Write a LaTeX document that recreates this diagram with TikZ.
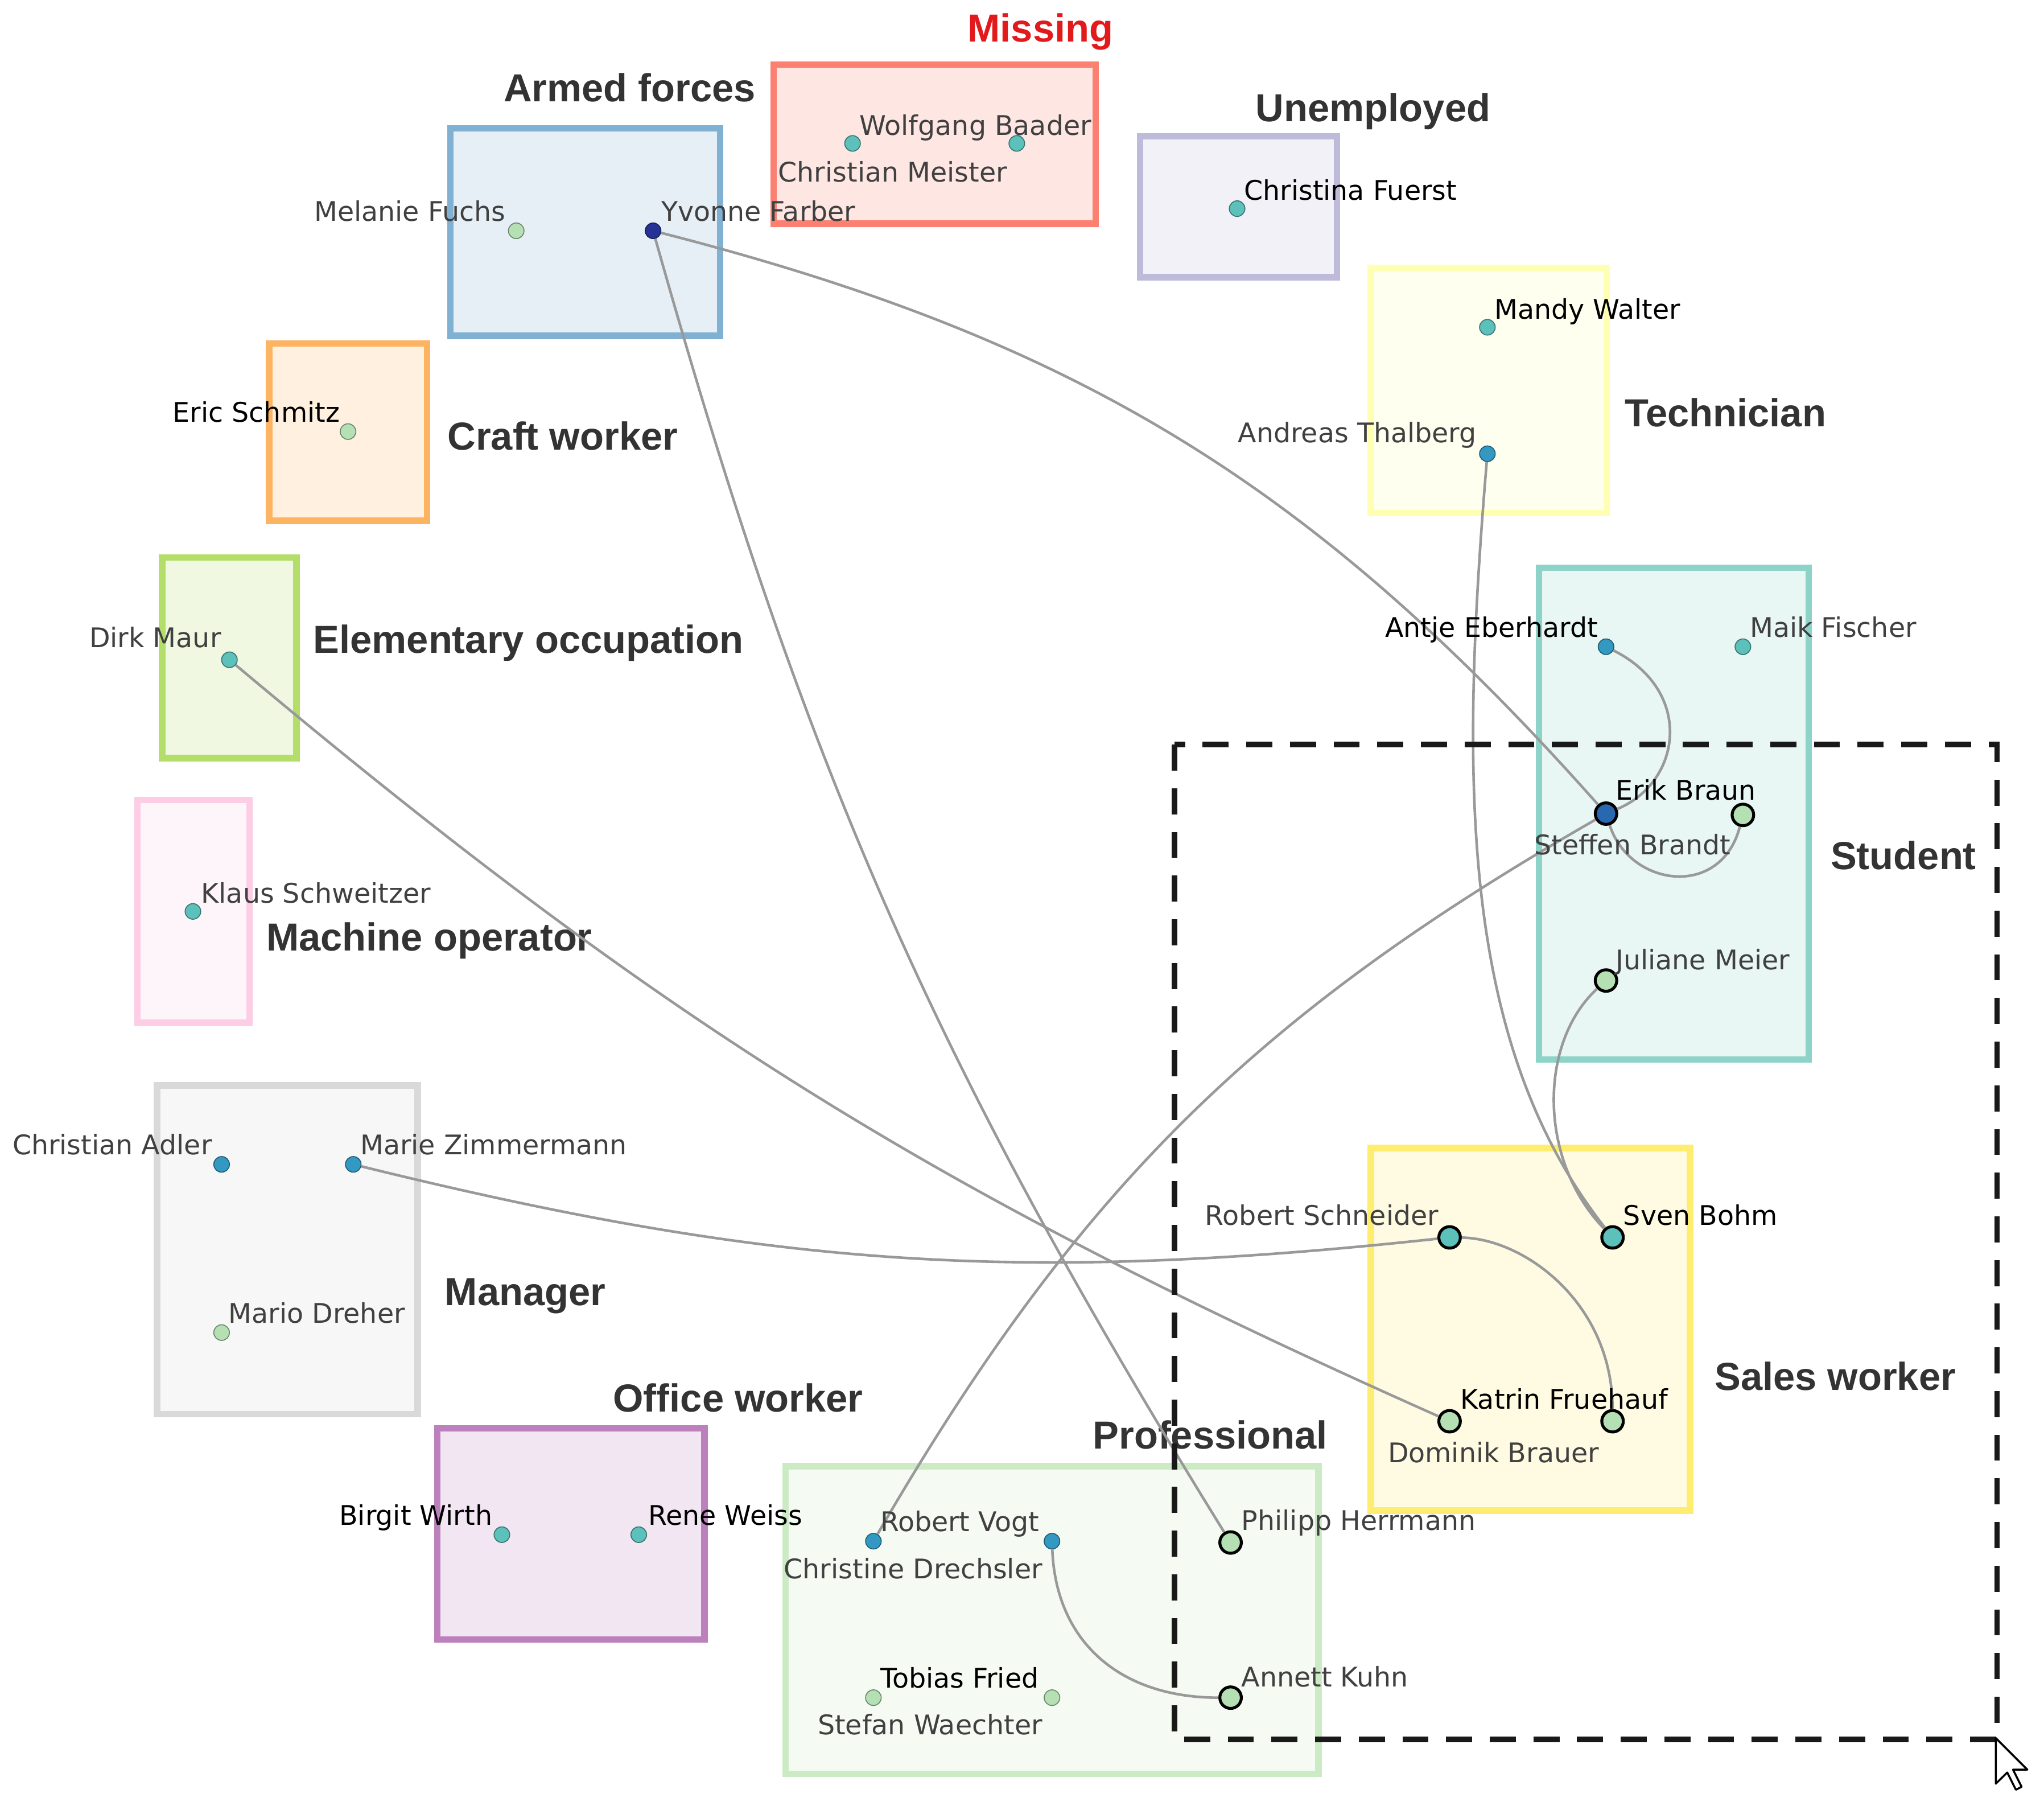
\documentclass[tikz,border=0pt]{standalone}
\usepackage{fontspec}
\setmainfont{DejaVu Sans}
\newfontfamily\hfont{Liberation Sans}
\usetikzlibrary{calc}
\definecolor{cpg}{HTML}{B4E0B4}
\definecolor{cteal}{HTML}{5CC1BA}
\definecolor{cblue}{HTML}{3399C2}
\definecolor{cdblue}{HTML}{2868B0}
\definecolor{cnavy}{HTML}{253494}
\definecolor{cedge}{HTML}{999999}
\definecolor{ctext}{HTML}{333333}
\definecolor{cname}{HTML}{404040}
\definecolor{cred}{HTML}{E31A1C}
\definecolor{sA}{HTML}{8DD3C7}
\definecolor{sB}{HTML}{FFFFB3}
\definecolor{sC}{HTML}{BEBADA}
\definecolor{sD}{HTML}{FB8072}
\definecolor{sE}{HTML}{80B1D3}
\definecolor{sF}{HTML}{FDB462}
\definecolor{sG}{HTML}{B3DE69}
\definecolor{sH}{HTML}{FCCDE5}
\definecolor{sI}{HTML}{D9D9D9}
\definecolor{sJ}{HTML}{BC80BD}
\definecolor{sK}{HTML}{CCEBC5}
\definecolor{sL}{HTML}{FFED6F}
\tikzset{
  grp/.style={draw=#1, fill=#1!20, line width=0.1cm},
  sdot/.style={circle, inner sep=0pt, minimum size=0.24cm, fill=#1, draw=#1!60!black, line width=0.4pt},
  ldot/.style={circle, inner sep=0pt, minimum size=0.33cm, fill=#1, draw=black, line width=0.045cm},
  nm/.style={inner sep=0pt, text=cname, font=\fontsize{11.8}{14}\selectfont},
  nmb/.style={nm, text=black},
  hd/.style={inner sep=0pt, text=ctext, font=\hfont\bfseries\fontsize{17.07}{20}\selectfont, anchor=base west},
  lnk/.style={draw=cedge, line width=0.04cm},
  sel/.style={draw=black!90, line width=0.08cm, dash pattern=on 0.4cm off 0.27cm},
}
\begin{document}
\begin{tikzpicture}[x=0.02cm,y=-0.02cm]
\useasboundingbox[fill=white] (0,0) rectangle (1568,1385);

% group boxes
\draw[grp=sE] (345.5,98.5) rectangle (552.5,257.5);
\draw[grp=sD] (593.5,49.5) rectangle (840.5,171.5);
\draw[grp=sC] (874.5,104.5) rectangle (1025.5,212.5);
\draw[grp=sB] (1051.5,205.5) rectangle (1232.5,393.5);
\draw[grp=sF] (206.5,263.5) rectangle (327.5,399.5);
\draw[grp=sG] (124.5,427.5) rectangle (227.5,581.5);
\draw[grp=sH] (105.5,613.5) rectangle (191.5,784.5);
\draw[grp=sI] (120.5,832.5) rectangle (320.5,1084.5);
\draw[grp=sJ] (335.5,1095.5) rectangle (540.5,1257.5);
\draw[grp=sK] (602.5,1124.5) rectangle (1011.5,1360.5);
\draw[grp=sL] (1051.5,880.5) rectangle (1296.5,1158.5);
\draw[grp=sA] (1180.5,435.5) rectangle (1387.5,812.5);

% group headings
\node[hd] (hArmed) at (386,78) {Armed forces};
\node[hd, text=cred] (hMiss) at (742,32) {Missing};
\node[hd] (hUnemp) at (963,93) {Unemployed};
\node[hd] (hTech) at (1246,327) {Technician};
\node[hd] (hCraft) at (343,345) {Craft worker};
\node[hd] (hElem) at (240,501) {Elementary occupation};
\node[hd] (hMach) at (204,729) {Machine operator};
\node[hd] (hMan) at (341,1001) {Manager};
\node[hd] (hOff) at (470,1083) {Office worker};
\node[hd] (hProf) at (838,1111) {Professional};
\node[hd] (hSales) at (1315,1066) {Sales worker};
\node[hd] (hStud) at (1404,667) {Student};

% dots
\node[sdot=cpg] (mf) at (396,177) {};
\node[sdot=cnavy] (yf) at (501,177) {};
\node[sdot=cteal] (wb) at (654,110) {};
\node[sdot=cteal] (cm) at (780,110) {};
\node[sdot=cteal] (cf) at (949,160) {};
\node[sdot=cteal] (mw) at (1141,251) {};
\node[sdot=cblue] (at) at (1141,348) {};
\node[sdot=cpg] (es) at (267,331) {};
\node[sdot=cteal] (dm) at (176,506) {};
\node[sdot=cteal] (ks) at (148,699) {};
\node[sdot=cblue] (ca) at (170,893) {};
\node[sdot=cblue] (mz) at (271,893) {};
\node[sdot=cpg] (md) at (170,1022) {};
\node[sdot=cteal] (bw) at (385,1177) {};
\node[sdot=cteal] (rw) at (490,1177) {};
\node[sdot=cblue] (rv) at (670,1182) {};
\node[sdot=cblue] (cd) at (807,1182) {};
\node[sdot=cpg] (tf) at (670,1302) {};
\node[sdot=cpg] (swa) at (807,1302) {};
\node[sdot=cblue] (ae) at (1232,496) {};
\node[sdot=cteal] (mfi) at (1337,496) {};
\node[ldot=cdblue] (eb) at (1232,624) {};
\node[ldot=cpg] (sb) at (1337,625) {};
\node[ldot=cpg] (jm) at (1232,752) {};
\node[ldot=cteal] (rs) at (1112,949) {};
\node[ldot=cteal] (sv) at (1237,949) {};
\node[ldot=cpg] (kf) at (1112,1090) {};
\node[ldot=cpg] (db) at (1237,1090) {};
\node[ldot=cpg] (ph) at (944,1183) {};
\node[ldot=cpg] (ak) at (944,1302) {};

% connectors
\draw[lnk] (yf) to[bend left=17] (eb);
\draw[lnk] (yf) to[bend right=8] (ph);
\draw[lnk] (eb) to[bend right=15] (rv);
\draw[lnk] (ae) .. controls (1300,530) and (1290,600) .. (eb);
\draw[lnk] (eb) .. controls (1250,680) and (1320,690) .. (sb);
\draw[lnk] (at) .. controls (1120,600) and (1120,800) .. (sv);
\draw[lnk] (jm) .. controls (1180,800) and (1180,890) .. (sv);
\draw[lnk] (dm) to[bend right=8] (kf);
\draw[lnk] (mz) to[bend right=10] (rs);
\draw[lnk] (rs) .. controls (1170,950) and (1237,1000) .. (db);
\draw[lnk] (cd) .. controls (810,1260) and (860,1302) .. (ak);

% names
\node[nm, anchor=base east] (tmf) at (388,169.5) {Melanie Fuchs};
\node[nm, anchor=base west] (tyf) at (507,169.5) {Yvonne Farber};
\node[nm, anchor=base west] (twb) at (659,103.5) {Wolfgang Baader};
\node[nm, anchor=base east] (tcm) at (773,139.5) {Christian Meister};
\node[nmb, anchor=base west] (tcf) at (954,153.5) {Christina Fuerst};
\node[nmb, anchor=base west] (tmw) at (1146,244.5) {Mandy Walter};
\node[nm, anchor=base east] (tat) at (1133,339.5) {Andreas Thalberg};
\node[nmb, anchor=base east] (tes) at (261,323.5) {Eric Schmitz};
\node[nm, anchor=base east] (tdm) at (170,496.5) {Dirk Maur};
\node[nm, anchor=base west] (tks) at (154,692.5) {Klaus Schweitzer};
\node[nm, anchor=base east] (tca) at (163,885.5) {Christian Adler};
\node[nm, anchor=base west] (tmz) at (276,885.5) {Marie Zimmermann};
\node[nm, anchor=base west] (tmd) at (175,1014.5) {Mario Dreher};
\node[nmb, anchor=base east] (tbw) at (378,1169.5) {Birgit Wirth};
\node[nmb, anchor=base west] (trw) at (497,1169.5) {Rene Weiss};
\node[nm, anchor=base west] (trv) at (675,1174.5) {Robert Vogt};
\node[nm, anchor=base east] (tcd) at (800,1210.5) {Christine Drechsler};
\node[nmb, anchor=base west] (ttf) at (675,1294.5) {Tobias Fried};
\node[nm, anchor=base east] (tswa) at (800,1330.5) {Stefan Waechter};
\node[nmb, anchor=base east] (tae) at (1226,488.5) {Antje Eberhardt};
\node[nm, anchor=base west] (tmfi) at (1342,488.5) {Maik Fischer};
\node[nmb, anchor=base west] (teb) at (1239,613.5) {Erik Braun};
\node[nm, anchor=base east] (tsb) at (1328,655.5) {Steffen Brandt};
\node[nm, anchor=base west] (tjm) at (1239,743.5) {Juliane Meier};
\node[nm, anchor=base east] (trs) at (1104,939.5) {Robert Schneider};
\node[nmb, anchor=base west] (tsv) at (1245,939.5) {Sven Bohm};
\node[nmb, anchor=base west] (tkf) at (1120,1080.5) {Katrin Fruehauf};
\node[nm, anchor=base east] (tdb) at (1227,1121.5) {Dominik Brauer};
\node[nm, anchor=base west] (tph) at (952,1173.5) {Philipp Herrmann};
\node[nm, anchor=base west] (tak) at (952,1293.5) {Annett Kuhn};

% selection rectangle
\draw[sel] (901,571) rectangle (1532,1334);

% mouse cursor
\draw[fill=white, draw=black, line width=0.03cm, line join=round]
  (1531,1333) -- ++(0,35) -- ++(8.8,-8.6) -- ++(6.6,13.2) -- ++(4.4,-2.2)
  -- ++(-6.6,-13.2) -- ++(11,0) -- cycle;
\end{tikzpicture}
\end{document}
